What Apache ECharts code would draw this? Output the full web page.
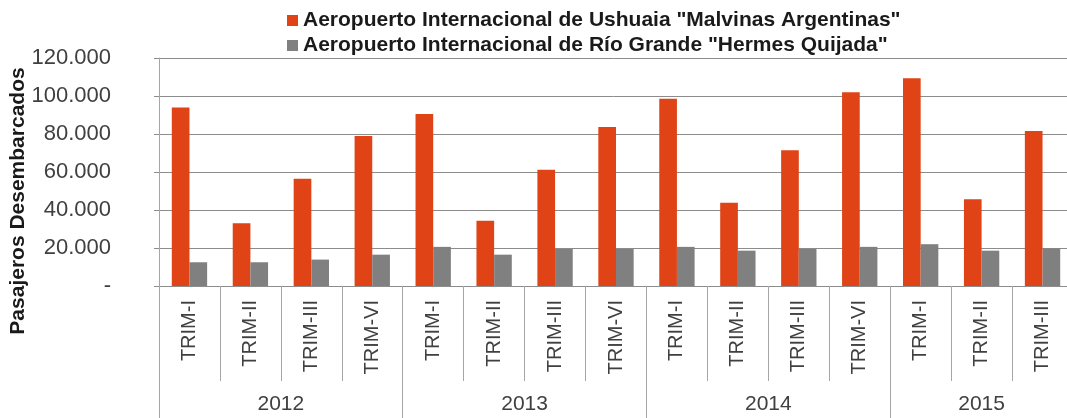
<!DOCTYPE html>
<html>
<head>
<meta charset="utf-8">
<script src="https://cdn.jsdelivr.net/npm/echarts@6/dist/echarts.min.js"></script>
<style>html,body{margin:0;padding:0;background:#fff}#c{width:1067px;height:418px}</style>
</head>
<body>
<div id="c"></div>
<script>
var categories = ['TRIM-I','TRIM-II','TRIM-III','TRIM-VI','TRIM-I','TRIM-II','TRIM-III','TRIM-VI','TRIM-I','TRIM-II','TRIM-III','TRIM-VI','TRIM-I','TRIM-II','TRIM-III'];
var years = ['2012','2013','2014','2015'];
var yearSpans = [4,4,4,3];
var ushuaia = [94000,33000,56500,79000,90500,34300,61200,83700,98600,43800,71400,102000,109300,45700,81600];
var rioGrande = [12500,12500,13900,16500,20600,16500,19500,19500,20600,18600,19500,20600,22000,18600,19700];
var seriesNames = ['Aeropuerto Internacional de Ushuaia "Malvinas Argentinas"','Aeropuerto Internacional de Río Grande "Hermes Quijada"'];
var yTicks = [0,20000,40000,60000,80000,100000,120000];
var yTitle = 'Pasajeros Desembarcados';

var bounds = [0], centers = [];
(function(){var acc=0;for(var i=0;i<yearSpans.length;i++){centers.push(acc+yearSpans[i]/2);acc+=yearSpans[i];bounds.push(acc);}})();

function fmt(v){ if(v===0) return '-'; return String(v).replace(/\B(?=(\d{3})+(?!\d))/g,'.'); }

var chart = echarts.init(document.getElementById('c'));
chart.setOption({
  animation:false,
  textStyle:{fontFamily:'Liberation Sans, Arial, sans-serif'},
  legend:{
    orient:'vertical', left:282, top:5, itemWidth:11, itemHeight:11, itemGap:4,
    textStyle:{fontSize:21, fontWeight:'bold', color:'#1a1a1a', fontFamily:'Liberation Sans, Arial, sans-serif'},
    data:[{name:seriesNames[0],icon:'rect'},{name:seriesNames[1],icon:'rect'}]
  },
  graphic:[{
    type:'text', x:18, y:201, rotation:Math.PI/2,
    style:{text:yTitle, font:'bold 21px "Liberation Sans", Arial, sans-serif', fill:'#1a1a1a', align:'center', verticalAlign:'middle'}
  }],
  grid:{left:159, right:-6, top:58, bottom:132, containLabel:false, outerBoundsMode:'none'},
  xAxis:[{
    type:'category', data:categories, position:'bottom',
    axisLine:{show:true, lineStyle:{color:'#8c8c8c', width:1}},
    axisTick:{show:true, interval:0, length:95, lineStyle:{color:'#a6a6a6'}},
    axisLabel:{interval:0, rotate:90, margin:14, fontSize:20, color:'#404040', fontFamily:'Liberation Sans, Arial, sans-serif'}
  },{
    type:'value', min:0, max:categories.length, position:'bottom',
    axisLine:{show:false}, splitLine:{show:false},
    axisTick:{show:true, customValues:bounds, length:132, lineStyle:{color:'#a6a6a6'}},
    axisLabel:{show:true, customValues:centers, margin:108, fontSize:21, color:'#404040',
      formatter:function(v){var i=centers.indexOf(v);return i>=0?years[i]:'';}}
  }],
  yAxis:{
    type:'value', min:0, max:120000, interval:20000,
    axisLine:{show:true, lineStyle:{color:'#a6a6a6'}},
    axisTick:{show:true, length:5, lineStyle:{color:'#8c8c8c'}},
    axisLabel:{margin:48, fontSize:22, color:'#404040', formatter:fmt, customValues:yTicks},
    splitLine:{show:true, lineStyle:{color:'#8c8c8c', width:1}}
  },
  series:[
    {name:seriesNames[0], type:'bar', data:ushuaia, itemStyle:{color:'#E04316'}, barGap:'0%', barCategoryGap:'42%'},
    {name:seriesNames[1], type:'bar', data:rioGrande, itemStyle:{color:'#808080'}, barGap:'0%', barCategoryGap:'42%'}
  ]
});
</script>
</body>
</html>
